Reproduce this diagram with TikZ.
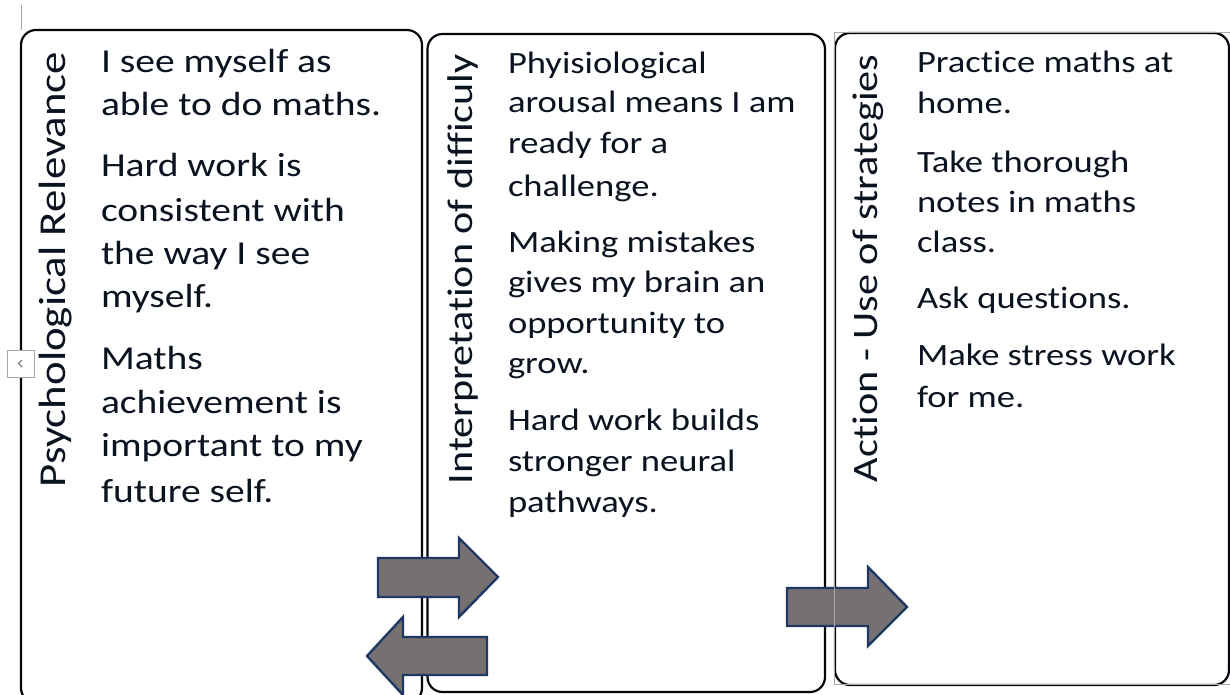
\documentclass[tikz,border=0pt]{standalone}
\usepackage{fontspec}
\setmainfont{Carlito}[FakeStretch=1.18, Ligatures={NoCommon}]
\definecolor{ink}{HTML}{0B1220}
\definecolor{panelline}{HTML}{05070F}
\definecolor{arrowfill}{HTML}{767171}
\definecolor{arrowedge}{HTML}{1F3864}
\definecolor{framegray}{HTML}{A6A6A6}
\newcommand{\bodyA}{\fontsize{33.5}{40}\selectfont}
\newcommand{\bodyB}{\fontsize{31}{38}\selectfont}
\begin{document}
\begin{tikzpicture}[x=1pt,y=-1pt,
  panel/.style={draw=panelline, line width=2.2pt, rounded corners=15pt, inner sep=0pt, fill=white},
  bodytxt/.style={anchor=base west, inner sep=0pt, outer sep=0pt, text=ink},
  titletxt/.style={rotate=90, anchor=base west, inner sep=0pt, outer sep=0pt, text=ink},
  blockarrow/.style={fill=arrowfill, draw=arrowedge, line width=2.4pt, line join=miter},
  thinframe/.style={draw=framegray, line width=0.8pt}]
\useasboundingbox (0,0) rectangle (1230,695);
\clip (0,0) rectangle (1230,695);

% the three panels
\node[panel, minimum width=401pt, minimum height=673pt] (panelA) at (221.5,366.5) {};
\node[panel, minimum width=397.5pt, minimum height=658pt] (panelB) at (626.25,363) {};
\node[panel, minimum width=394pt, minimum height=652pt] (panelC) at (1032,359) {};

% vertical headings
\node[titletxt, font=\fontsize{38}{40}\selectfont] (headA) at (65,487) {Psychological Relevance};
\node[titletxt, font=\fontsize{35.7}{40}\selectfont] (headB) at (472,484) {Interpretation of difficuly};
\node[titletxt, font=\fontsize{35.8}{40}\selectfont] (headC) at (877,482) {Action - Use of strategies};

% panel texts, one line per node
\foreach \yy/\ptext [count=\i] in {73/I see myself as, 116/able to do maths.,
    177/Hard work is, 221/consistent with, 264/the way I see, 307/myself.,
    369/Maths, 413/achievement is, 456/important to my, 502/future self.}
  \node[bodytxt, font=\bodyA] (lineA\i) at (101,\yy) {\ptext};

\foreach \yy/\ptext [count=\i] in {74/Phyisiological, 113/arousal means I am,
    154/ready for a, 196/challenge., 252/Making mistakes, 292/gives my brain an,
    333/opportunity to, 373/grow., 430/Hard work builds, 471/stronger neural,
    512/pathways.}
  \node[bodytxt, font=\bodyB] (lineB\i) at (508,\yy) {\ptext};

\foreach \yy/\ptext [count=\i] in {73/Practice maths at, 114/home.,
    172/Take thorough, 212/notes in maths, 252/class., 308/Ask questions.,
    365/Make stress work, 407/for me.}
  \node[bodytxt, font=\bodyB] (lineC\i) at (917,\yy) {\ptext};

% block arrows between the panels
\draw[blockarrow] (378,558) -- (459,558) -- (459,538) -- (498,577) -- (459,617)
  -- (459,597) -- (378,597) -- cycle;
\draw[blockarrow] (487,637) -- (403,637) -- (403,617) -- (367,656) -- (403,695)
  -- (403,675) -- (487,675) -- cycle;
\draw[blockarrow] (787,588) -- (868,588) -- (868,567) -- (907,607) -- (868,646)
  -- (868,626) -- (787,626) -- cycle;

% thin frames and the small side button
\draw[thinframe] (21,5) -- (21,30);
\draw[thinframe] (1231,32.5) -- (834.5,32.5) -- (834.5,684.5) -- (1231,684.5);
\node[draw=framegray, fill=white, line width=0.8pt, minimum width=27pt, minimum height=27pt, inner sep=0pt] (navbtn) at (20.5,363.5) {};
\draw[draw=gray, line width=1.2pt] (22,360) -- (18.5,363.5) -- (22,367);
\end{tikzpicture}
\end{document}
